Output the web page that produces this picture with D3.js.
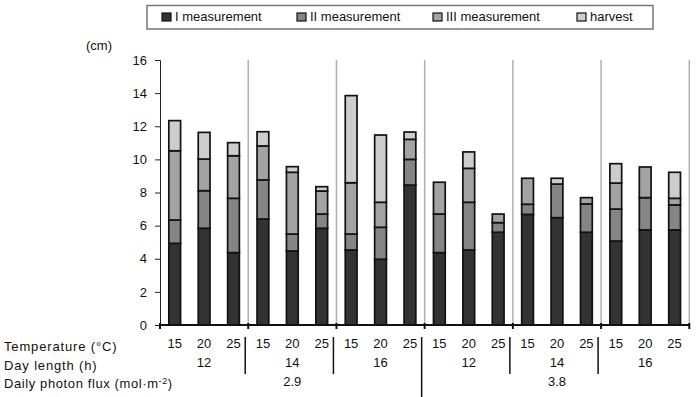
<!DOCTYPE html>
<html>
<head>
<meta charset="utf-8">
<script src="https://cdn.jsdelivr.net/npm/d3@7"></script>
<style>
  body { margin: 0; background: #fff; }
  text { font-family: "Liberation Sans", Arial, sans-serif; fill: #111; }
</style>
</head>
<body>
<script>
//Chart size (in pixels)
var width = 700,
    height = 397;

//categories
var temps = ["15","20","25","15","20","25","15","20","25","15","20","25","15","20","25","15","20","25"];
var dayLengths = ["12","14","16","12","14","16"];
var fluxes = ["2.9","3.8"];

//segment heights, cm (stacked in this order)
var measI   = [4.93,5.84,4.37,6.40,4.47,5.84,4.53,3.97,8.45,4.37,4.53,5.60,6.68,6.48,5.60,5.07,5.74,5.74];
var measII  = [1.41,2.27,3.28,2.36,1.02,0.86,0.96,1.93,1.55,2.33,2.88,0.58,0.61,2.03,1.71,1.93,1.95,1.51];
var measIII = [4.18,1.91,2.57,2.05,3.73,1.39,3.10,1.51,1.21,1.92,2.05,0.52,1.57,0.00,0.38,1.57,1.85,0.40];
var harvest = [1.82,1.61,0.79,0.86,0.34,0.26,5.26,4.06,0.44,0.00,0.99,0.00,0.00,0.35,0.00,1.17,0.00,1.57];

var seriesNames = ["I measurement","II measurement","III measurement","harvest"];
var yTicks = [0,2,4,6,8,10,12,14,16];

var colors = ["#333333","#858585","#a3a3a3","#cdcdcd"];

//table for d3.stack
var rows = temps.map(function(t,i) {
  return {i: i, s0: measI[i], s1: measII[i], s2: measIII[i], s3: harvest[i]};
});
var keys = ["s0","s1","s2","s3"];
var stacked = d3.stack().keys(keys)(rows);

var svg = d3.select("body").append("svg")
    .attr("width", width)
    .attr("height", height);

svg.append("rect").attr("width", width).attr("height", height).attr("fill", "#fff");

//scales
var x = d3.scaleBand()
    .domain(d3.range(temps.length))
    .range([160, 689.3])
    .paddingInner(0.6)
    .paddingOuter(0.3);

var y = d3.scaleLinear()
    .domain([0,16])
    .range([325,60]);

var step = x.step();
var groupEdge = function(g) { return x.range()[0] + g*3*step; };

//gray group separators in the plot
svg.append("g").selectAll("line")
  .data(d3.range(1,7))
  .enter().append("line")
    .attr("x1", groupEdge).attr("x2", groupEdge)
    .attr("y1", y(16)).attr("y2", y(0))
    .attr("stroke", "#b0b0b0")
    .attr("stroke-width", 1.5);

//bars
svg.append("g").selectAll("g")
  .data(stacked)
  .enter().append("g")
    .attr("fill", function(d,k) { return colors[k]; })
  .selectAll("rect")
  .data(function(d) { return d.filter(function(p) { return p[1] - p[0] > 0; }); })
  .enter().append("rect")
    .attr("x", function(d) { return x(d.data.i); })
    .attr("width", x.bandwidth())
    .attr("y", function(d) { return y(d[1]); })
    .attr("height", function(d) { return y(d[0]) - y(d[1]); })
    .attr("stroke", "#111")
    .attr("stroke-width", 1.7);

//y axis
var yAxis = svg.append("g")
    .attr("transform", "translate(160,0)")
    .call(d3.axisLeft(y).tickValues(yTicks).tickSize(5).tickPadding(8));
yAxis.select(".domain").attr("stroke", "#222").attr("stroke-width", 1);
yAxis.selectAll(".tick line").attr("stroke", "#222");
yAxis.selectAll("text")
    .style("font-family", "Liberation Sans, Arial, sans-serif")
    .style("font-size", "13px")
    .attr("fill", "#111");

svg.append("text")
    .attr("x", 86).attr("y", 50)
    .style("font-size", "13px")
    .text("(cm)");

//x axis line and group ticks
svg.append("line")
    .attr("x1", 160).attr("x2", 689.3)
    .attr("y1", y(0)).attr("y2", y(0))
    .attr("stroke", "#111").attr("stroke-width", 2);
svg.append("g").selectAll("line")
  .data(d3.range(0,7))
  .enter().append("line")
    .attr("x1", groupEdge).attr("x2", groupEdge)
    .attr("y1", y(0) - 2).attr("y2", y(0) + 4)
    .attr("stroke", "#111").attr("stroke-width", 2);

//temperature labels
svg.append("g").selectAll("text")
  .data(temps)
  .enter().append("text")
    .attr("x", function(d,i) { return x(i) + x.bandwidth()/2; })
    .attr("y", 348)
    .attr("text-anchor", "middle")
    .style("font-size", "13px")
    .text(function(d) { return d; });

//day length labels
svg.append("g").selectAll("text")
  .data(dayLengths)
  .enter().append("text")
    .attr("x", function(d,g) { return groupEdge(g) + 1.5*step; })
    .attr("y", 367)
    .attr("text-anchor", "middle")
    .style("font-size", "13px")
    .text(function(d) { return d; });

//photon flux labels
svg.append("g").selectAll("text")
  .data(fluxes)
  .enter().append("text")
    .attr("x", function(d,f) { return groupEdge(f*3) + 4.5*step; })
    .attr("y", 386)
    .attr("text-anchor", "middle")
    .style("font-size", "13px")
    .text(function(d) { return d; });

//black separators under the axis
svg.append("g").selectAll("line")
  .data(d3.range(1,6))
  .enter().append("line")
    .attr("x1", function(g) { return groupEdge(g) - 3; })
    .attr("x2", function(g) { return groupEdge(g) - 3; })
    .attr("y1", 337)
    .attr("y2", function(g) { return g == 3 ? 397 : 374; })
    .attr("stroke", "#111").attr("stroke-width", 1.5);

//row titles
var rowTitles = [["Temperature (°C)",351],["Day length (h)",370]];
svg.append("g").selectAll("text")
  .data(rowTitles)
  .enter().append("text")
    .attr("x", 4).attr("y", function(d) { return d[1]; })
    .style("font-size", "13px")
    .style("letter-spacing", "0.85px")
    .text(function(d) { return d[0]; });

var flux = svg.append("text")
    .attr("x", 4).attr("y", 388)
    .style("font-size", "13px")
    .style("letter-spacing", "0.6px");
flux.append("tspan").text("Daily photon flux (mol·m");
flux.append("tspan").attr("dy", -4).style("font-size", "9px").text("-2");
flux.append("tspan").attr("dy", 4).text(")");

//legend
svg.append("rect")
    .attr("x", 147).attr("y", 5.5)
    .attr("width", 506).attr("height", 23.5)
    .attr("fill", "#fff")
    .attr("stroke", "#777").attr("stroke-width", 1.5);

var legendX = [162, 297, 433, 577];
var legend = svg.append("g").selectAll("g")
  .data(seriesNames)
  .enter().append("g")
    .attr("transform", function(d,k) { return "translate(" + legendX[k] + ",0)"; });
legend.append("rect")
    .attr("x", 0).attr("y", 13)
    .attr("width", 9).attr("height", 8)
    .attr("fill", function(d,k) { return colors[k]; })
    .attr("stroke", "#111").attr("stroke-width", 1.2);
legend.append("text")
    .attr("x", 13).attr("y", 21)
    .style("font-size", "13px")
    .text(function(d) { return d; });
</script>
</body>
</html>
